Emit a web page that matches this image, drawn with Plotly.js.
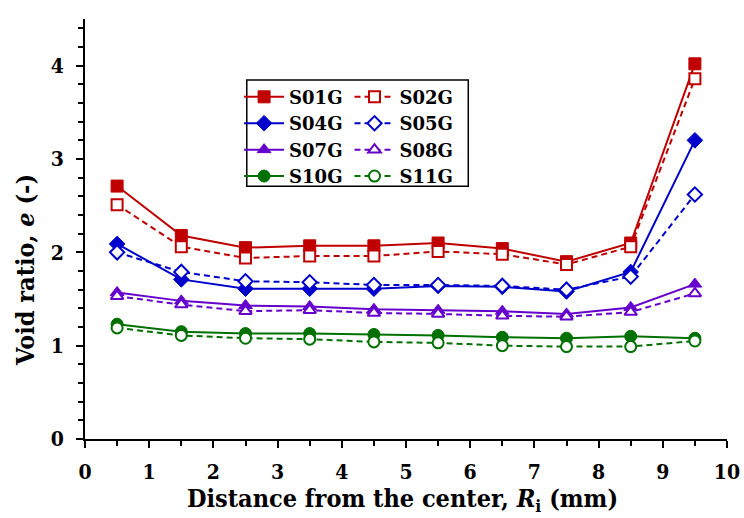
<!DOCTYPE html>
<html><head><meta charset="utf-8">
<script src="https://cdn.plot.ly/plotly-3.0.1.min.js"></script>
<style>body{margin:0;padding:0;background:#fff}#chart{width:744px;height:518px}</style>
</head><body><div id="chart"></div>
<script>
const distance = [0.5,1.5,2.5,3.5,4.5,5.5,6.5,7.5,8.5,9.5];
const S01G = [2.71,2.18,2.05,2.07,2.07,2.10,2.04,1.90,2.10,4.02];
const S02G = [2.51,2.06,1.94,1.96,1.96,2.01,1.98,1.87,2.06,3.86];
const S04G = [2.09,1.71,1.61,1.61,1.61,1.64,1.63,1.58,1.79,3.20];
const S05G = [2.00,1.79,1.69,1.68,1.65,1.65,1.64,1.60,1.74,2.62];
const S07G = [1.57,1.48,1.43,1.42,1.39,1.38,1.37,1.34,1.41,1.66];
const S08G = [1.53,1.44,1.37,1.38,1.35,1.34,1.32,1.31,1.36,1.56];
const S10G = [1.23,1.15,1.13,1.13,1.12,1.11,1.09,1.08,1.10,1.08];
const S11G = [1.19,1.11,1.08,1.07,1.04,1.03,1.00,0.99,0.99,1.05];
const xTitle = 'Distance from the center, <i>R</i><sub>i</sub> (mm)';
const yTitle = 'Void ratio, <i>e</i> (-)';

const red='#C00000', blue='#0000CC', purple='#6600CC', green='#007000';
function solid(name,y,color,sym,legend){
  return {x:distance,y:y,name:name,mode:'lines+markers',legend:legend,
    line:{color:color,width:2},marker:{symbol:sym,size:12,color:color,line:{color:color,width:1}}};
}
function open(name,y,color,sym,legend){
  return {x:distance,y:y,name:name,mode:'lines+markers',legend:legend,
    line:{color:color,width:2,dash:'6px,4px'},marker:{symbol:sym,size:11,color:'#ffffff',line:{color:color,width:2}}};
}
const data=[
  solid('S01G',S01G,red,'square','legend'),
  solid('S04G',S04G,blue,'diamond','legend'),
  solid('S07G',S07G,purple,'triangle-up','legend'),
  solid('S10G',S10G,green,'circle','legend'),
  open('S02G',S02G,red,'square','legend2'),
  open('S05G',S05G,blue,'diamond','legend2'),
  open('S08G',S08G,purple,'triangle-up','legend2'),
  open('S11G',S11G,green,'circle','legend2')
];
const condFam='"DejaVu Serif Condensed", "DejaVu Serif", serif';
const fontFam='"DejaVu Serif", serif';
const legFont={family:fontFam,size:18,color:'#000',weight:'bold'};
const layout={
  width:744,height:518,
  margin:{l:85,r:17,t:19,b:79},
  paper_bgcolor:'#fff',plot_bgcolor:'#fff',
  font:{family:condFam,color:'#000',weight:'bold'},
  xaxis:{range:[0,10],dtick:1,showgrid:false,zeroline:false,showline:true,linecolor:'#000',linewidth:2,
    ticks:'outside',ticklen:7,tickwidth:2,tickcolor:'#000',ticklabelstandoff:6,
    minor:{dtick:0.5,ticks:'outside',ticklen:5,tickwidth:2,tickcolor:'#000'},
    tickfont:{family:condFam,size:21,weight:'bold'}},
  yaxis:{range:[0,4.5],dtick:1,showgrid:false,zeroline:false,showline:true,linecolor:'#000',linewidth:2,
    ticks:'outside',ticklen:7,tickwidth:2,tickcolor:'#000',ticklabelstandoff:8,
    minor:{dtick:0.2,ticks:'outside',ticklen:5,tickwidth:2,tickcolor:'#000'},
    tickfont:{family:condFam,size:21,weight:'bold'}},
  annotations:[
    {text:xTitle,xref:'paper',yref:'paper',x:(402-85)/642,y:(439-500)/420,xanchor:'center',yanchor:'middle',showarrow:false,
     font:{family:condFam,size:25,weight:'bold',color:'#000'}},
    {text:yTitle,xref:'paper',yref:'paper',x:(25-85)/642,y:(439-270)/420,xanchor:'center',yanchor:'middle',showarrow:false,textangle:-90,
     font:{family:condFam,size:25,weight:'bold',color:'#000'}}
  ],
  legend:{x:0.24,y:0.858,xanchor:'left',yanchor:'top',font:legFont,bgcolor:'rgba(0,0,0,0)',tracegroupgap:0,itemwidth:40},
  legend2:{x:0.412,y:0.858,xanchor:'left',yanchor:'top',font:legFont,bgcolor:'rgba(0,0,0,0)',tracegroupgap:0,itemwidth:40},
  shapes:[{type:'rect',xref:'paper',yref:'paper',x0:0.252,x1:0.597,y0:0.602,y1:0.855,line:{color:'#000',width:1.5}}],
  showlegend:true
};
Plotly.newPlot('chart',data,layout,{displayModeBar:false});
</script></body></html>
